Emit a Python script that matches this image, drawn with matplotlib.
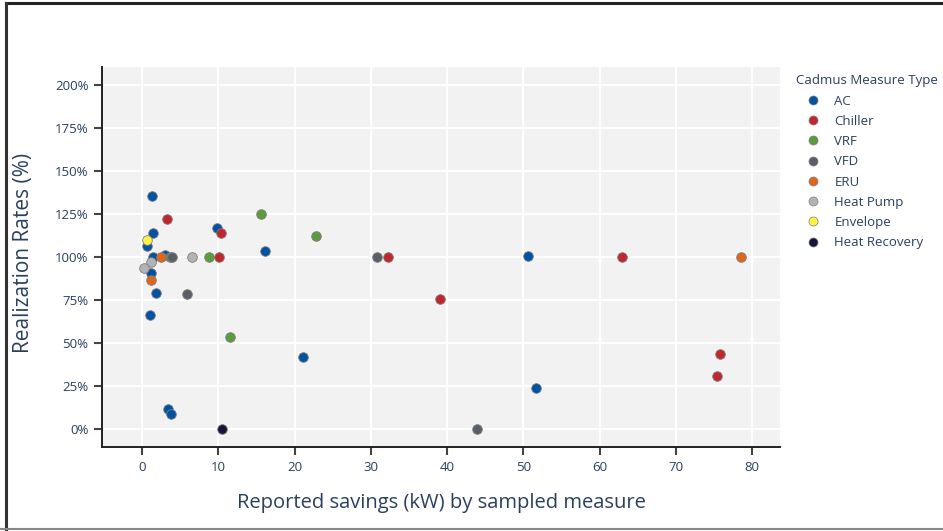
import matplotlib.pyplot as plt
from matplotlib.lines import Line2D
from matplotlib.ticker import FuncFormatter

plt.rcParams['font.family'] = ['Open Sans', 'DejaVu Sans']

# reported savings (kW) and realization rate (%) by measure type
ac_kw = [1.3, 1.5, 0.7, 1.5, 3.0, 9.8, 16.1, 1.2, 1.9, 1.0, 21.1, 3.4, 3.8, 50.6, 51.7]
ac_rr = [135.7, 114, 106.5, 100, 101, 116.7, 103.5, 90.8, 79.2, 66.5, 41.6, 11.6, 8.5, 100.3, 23.6]
chiller_kw = [3.3, 10.3, 10.1, 32.3, 39.1, 63.0, 75.8, 75.4]
chiller_rr = [122, 114, 100, 100, 75.7, 100, 43.5, 30.9]
vrf_kw = [15.6, 22.8, 3.7, 8.8, 11.6]
vrf_rr = [125, 112, 100, 100, 53.2]
vfd_kw = [4.0, 5.9, 30.8, 43.9]
vfd_rr = [100, 78.4, 100, 0]
eru_kw = [2.5, 1.2, 78.5]
eru_rr = [100, 86.6, 100]
hp_kw = [6.6, 1.2, 0.3]
hp_rr = [100, 97, 93.7]
env_kw = [0.7]
env_rr = [110]
hr_kw = [10.5]
hr_rr = [0]

types = ["AC", "Chiller", "VRF", "VFD", "ERU", "Heat Pump", "Envelope", "Heat Recovery"]
colors = ["#0052a3", "#c0272d", "#5b9a3d", "#5a5e66", "#e0661c", "#b3b3b3", "#fff244", "#15153a"]
series = [(ac_kw, ac_rr), (chiller_kw, chiller_rr), (vrf_kw, vrf_rr), (vfd_kw, vfd_rr),
          (eru_kw, eru_rr), (hp_kw, hp_rr), (env_kw, env_rr), (hr_kw, hr_rr)]

txt = '#2a3f5f'

fig = plt.figure(figsize=(9.43, 5.31), dpi=100)
ax = fig.add_axes([0.1085, 0.1588, 0.7186, 0.7145])
ax.set_facecolor('#f2f2f2')

for i, (name, (xs, ys)) in enumerate(zip(types, series)):
    ax.scatter(xs, ys, s=48, color=colors[i], edgecolor='#7f7f7f', linewidth=0.6,
               label=name, zorder=3 + i)

ax.set_xlim(-5.2, 83.65)
ax.set_ylim(-10.3, 210.3)
ax.set_xticks(range(0, 81, 10))
ax.set_yticks(range(0, 201, 25))
ax.yaxis.set_major_formatter(FuncFormatter(lambda v, p: f"{v:.0f}%"))
ax.grid(True, color='white', linewidth=1.4, zorder=0)
ax.set_axisbelow(True)

for s in ['top', 'right']:
    ax.spines[s].set_visible(False)
for s in ['left', 'bottom']:
    ax.spines[s].set_color('#222222')
    ax.spines[s].set_linewidth(1.4)
ax.tick_params(axis='both', length=6, width=1.5, color='#444444', labelcolor=txt,
               labelsize=9.5, pad=4)

ax.set_xlabel('Reported savings (kW) by sampled measure', fontsize=14.5, color=txt, labelpad=14)
ax.set_ylabel('Realization Rates (%)', fontsize=15, color=txt)
ax.yaxis.set_label_coords(-0.101, 0.51)

handles = [Line2D([], [], marker='o', linestyle='', markersize=6.5, markerfacecolor=c,
                  markeredgecolor='#7f7f7f', markeredgewidth=0.5) for c in colors]
leg = fig.legend(handles, types, loc='upper left', bbox_to_anchor=(0.838, 0.870),
                 frameon=False, title='Cadmus Measure Type', alignment='left',
                 fontsize=9.5, title_fontsize=9.5, labelspacing=0.55, handletextpad=0.35,
                 borderaxespad=0, handlelength=2.6)
for t in leg.get_texts():
    t.set_color(txt)
leg.get_title().set_color(txt)

# outer frame of the screenshot
fig.add_artist(Line2D([0.0064, 1.0], [0.994, 0.994], color='#222222', linewidth=2.2))
fig.add_artist(Line2D([0.0064, 0.0064], [0.004, 0.994], color='#333333', linewidth=2.2))
fig.add_artist(Line2D([0.0, 1.0], [0.004, 0.004], color='#888888', linewidth=1.5))

fig.savefig('out.png', dpi=100)
